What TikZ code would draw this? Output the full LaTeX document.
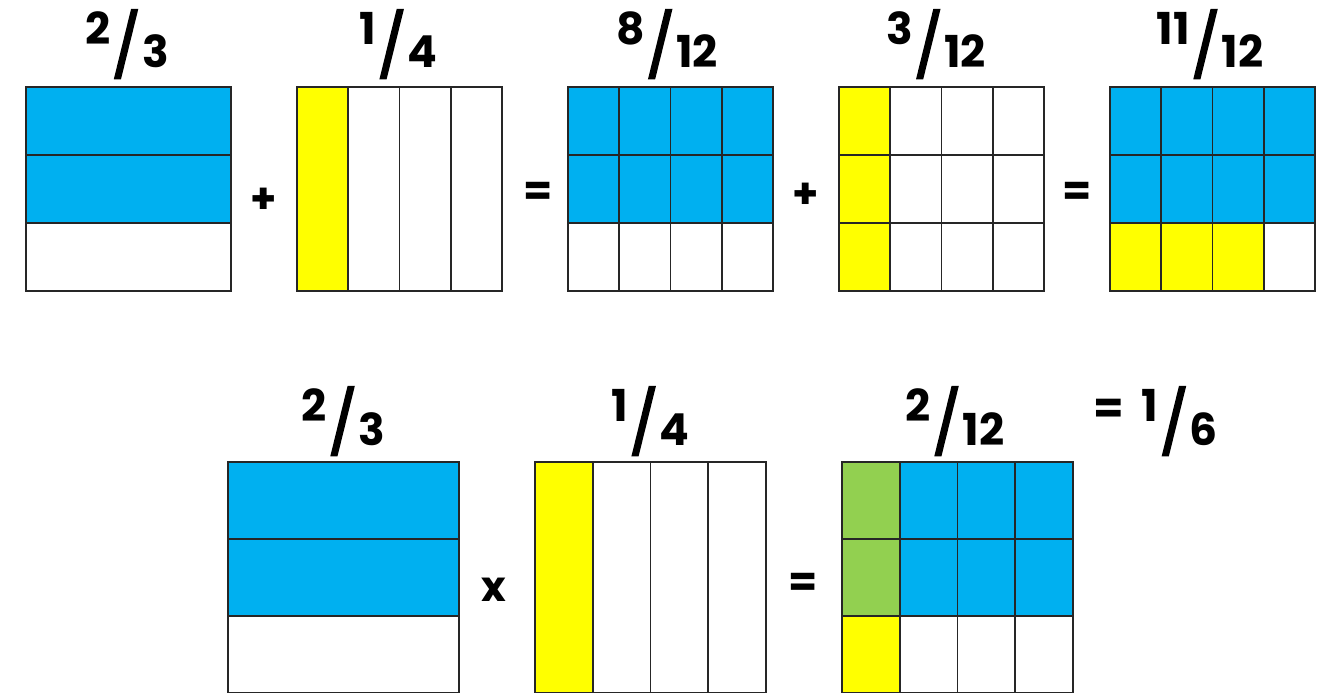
\documentclass[tikz,border=0pt]{standalone}
\usepackage{fontspec}
\setmainfont{Poppins}
\newfontfamily\slashfont{Poppins}[FakeBold=2.5]
\usetikzlibrary{positioning}

\definecolor{fblue}{HTML}{00B0F0}
\definecolor{fyellow}{HTML}{FFFF00}
\definecolor{fgreen}{HTML}{92D050}

% a fraction written as raised numerator, big slash, lowered denominator
\newcommand{\frc}[2]{\raisebox{24pt}{#1}\kern1pt{\fontsize{62}{62}\slashfont\mdseries /}\kern1pt#2}

\begin{document}
\begin{tikzpicture}[x=1pt, y=-1pt,
    grid line/.style={draw=black!85, line width=1.9pt},
    sign/.style={font=\fontsize{42}{42}\selectfont\bfseries},
    frac label/.style={anchor=base, inner sep=0pt, font=\fontsize{44}{44}\selectfont\bfseries}]
  \useasboundingbox (0,0) rectangle (1323,693);

  % top row: 2/3 + 1/4 = 8/12 + 3/12 = 11/12
  \begin{scope}[shift={(26,87)}, x=51.25pt, y=-68pt]
    \fill[fblue] (0,0) rectangle (4,2);
    \draw[grid line] (0,0) rectangle (4,3) (0,1) -- (4,1) (0,2) -- (4,2);
  \end{scope}
  \begin{scope}[shift={(297,87)}, x=51.25pt, y=-68pt]
    \fill[fyellow] (0,0) rectangle (1,3);
    \draw[grid line] (0,0) rectangle (4,3);
    \foreach \c in {1,2,3} \draw[grid line] (\c,0) -- (\c,3);
  \end{scope}
  \begin{scope}[shift={(568,87)}, x=51.25pt, y=-68pt]
    \fill[fblue] (0,0) rectangle (4,2);
    \draw[grid line] (0,0) rectangle (4,3);
    \foreach \c in {1,2,3} \draw[grid line] (\c,0) -- (\c,3);
    \foreach \r in {1,2} \draw[grid line] (0,\r) -- (4,\r);
  \end{scope}
  \begin{scope}[shift={(839,87)}, x=51.25pt, y=-68pt]
    \fill[fyellow] (0,0) rectangle (1,3);
    \draw[grid line] (0,0) rectangle (4,3);
    \foreach \c in {1,2,3} \draw[grid line] (\c,0) -- (\c,3);
    \foreach \r in {1,2} \draw[grid line] (0,\r) -- (4,\r);
  \end{scope}
  \begin{scope}[shift={(1110,87)}, x=51.25pt, y=-68pt]
    \fill[fblue] (0,0) rectangle (4,2);
    \fill[fyellow] (0,2) rectangle (3,3);
    \draw[grid line] (0,0) rectangle (4,3);
    \foreach \c in {1,2,3} \draw[grid line] (\c,0) -- (\c,3);
    \foreach \r in {1,2} \draw[grid line] (0,\r) -- (4,\r);
  \end{scope}

  \node[frac label] (two_thirds) at (127,68) {\frc{2}{3}};
  \node[frac label] (one_fourth) at (398.5,68) {\frc{1}{4}};
  \node[frac label] (eight_twelfths) at (667,68) {\frc{8}{12}};
  \node[frac label] (three_twelfths) at (936,68) {\frc{3}{12}};
  \node[frac label] (eleven_twelfths) at (1210,68) {\frc{11}{12}};

  \node[sign] (plus_a) at (264,201) {+};
  \node[sign] (eq_a) at (538,194) {=};
  \node[sign] (plus_b) at (806,196) {+};
  \node[sign] (eq_b) at (1077,194) {=};

  % bottom row: 2/3 x 1/4 = 2/12 = 1/6
  \begin{scope}[shift={(228,462)}, x=57.75pt, y=-77pt]
    \fill[fblue] (0,0) rectangle (4,2);
    \draw[grid line] (0,0) rectangle (4,3) (0,1) -- (4,1) (0,2) -- (4,2);
  \end{scope}
  \begin{scope}[shift={(535,462)}, x=57.75pt, y=-77pt]
    \fill[fyellow] (0,0) rectangle (1,3);
    \draw[grid line] (0,0) rectangle (4,3);
    \foreach \c in {1,2,3} \draw[grid line] (\c,0) -- (\c,3);
  \end{scope}
  \begin{scope}[shift={(842,462)}, x=57.75pt, y=-77pt]
    \fill[fblue] (1,0) rectangle (4,2);
    \fill[fgreen] (0,0) rectangle (1,2);
    \fill[fyellow] (0,2) rectangle (1,3);
    \draw[grid line] (0,0) rectangle (4,3);
    \foreach \c in {1,2,3} \draw[grid line] (\c,0) -- (\c,3);
    \foreach \r in {1,2} \draw[grid line] (0,\r) -- (4,\r);
  \end{scope}

  \node[frac label] (prod_a) at (343.5,445) {\frc{2}{3}};
  \node[frac label] (prod_b) at (650.5,445) {\frc{1}{4}};
  \node[frac label] (prod_c) at (955,445) {\frc{2}{12}};
  \node[frac label, anchor=base west] (prod_d) at (1093,445) {\raisebox{22pt}{=}\hspace{18pt}\frc{1}{6}};

  \node[sign] (times) at (494,590) {x};
  \node[sign] (eq_c) at (803,585) {=};
\end{tikzpicture}
\end{document}
